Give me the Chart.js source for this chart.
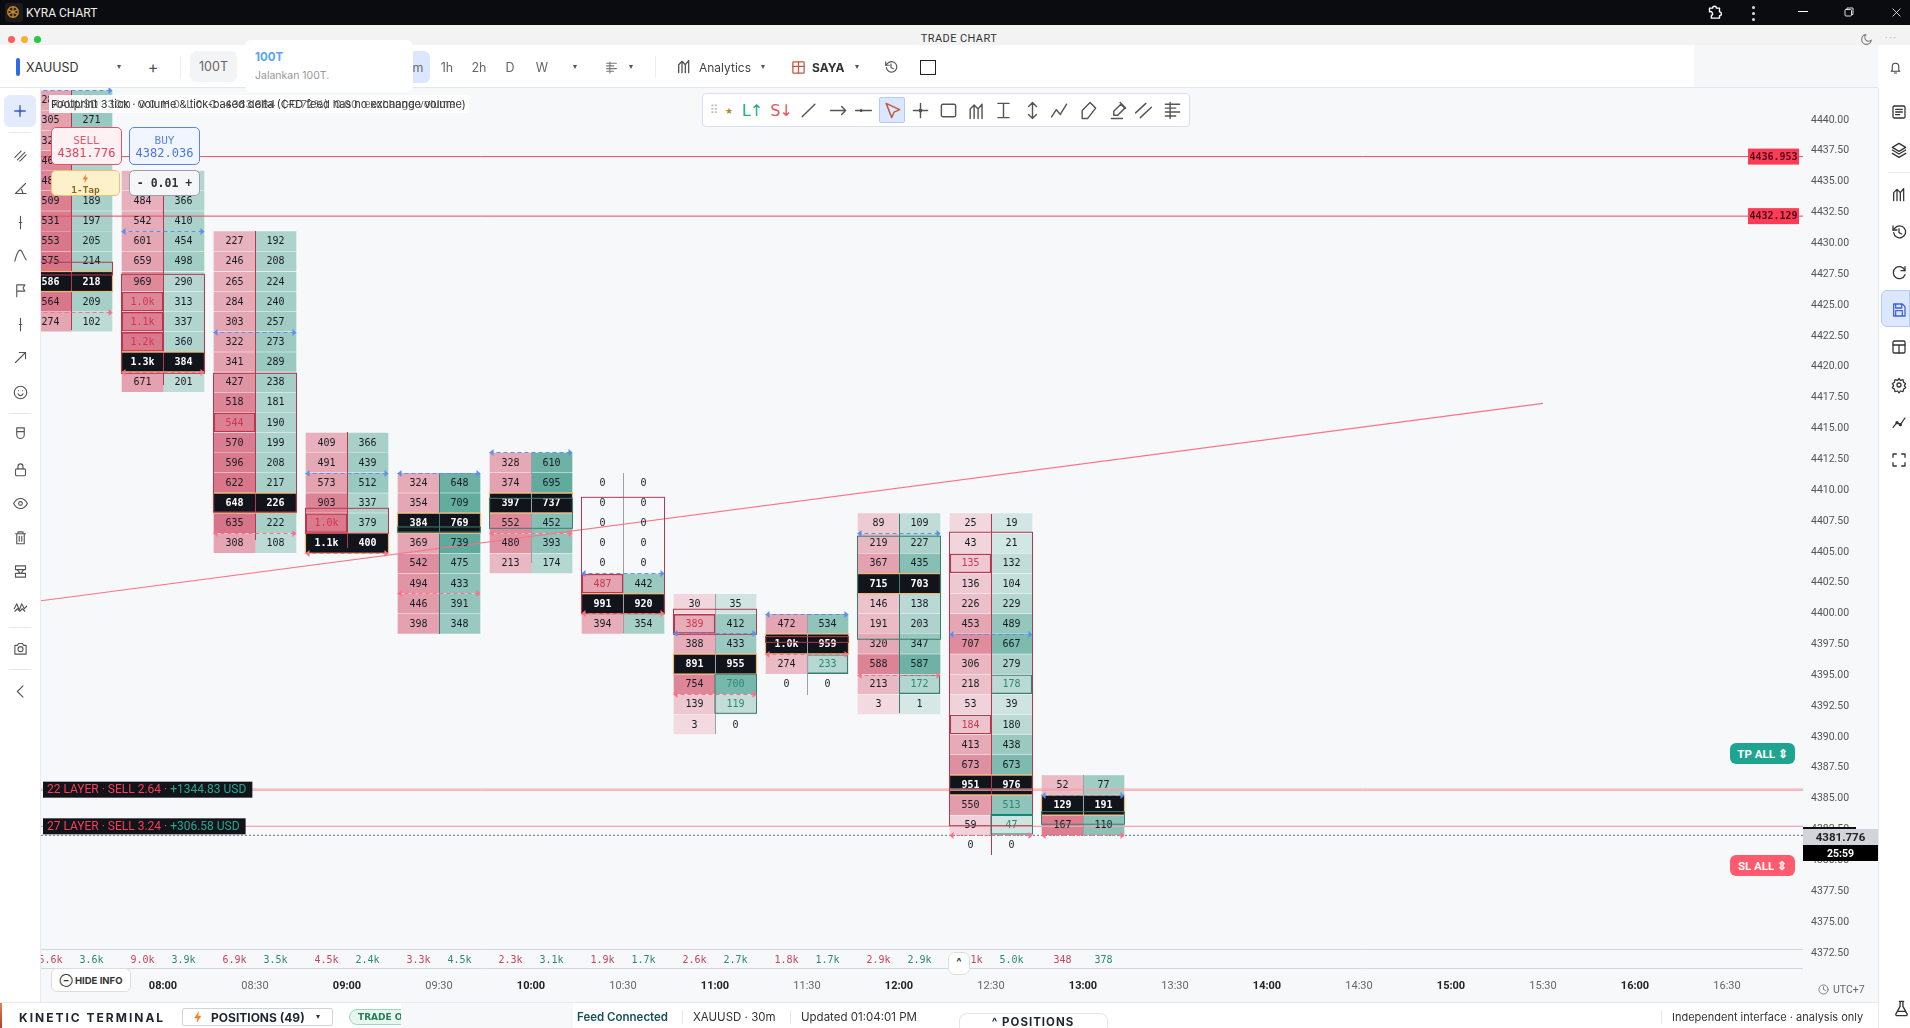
<!DOCTYPE html>
<html><head><meta charset="utf-8"><title>KYRA CHART</title>
<script src="https://cdn.jsdelivr.net/npm/chart.js@4/dist/chart.umd.min.js"></script>
<style>
html,body{margin:0;padding:0;width:1910px;height:1028px;overflow:hidden;background:#f7f8fa;font-family:Inter,Roboto,sans-serif;color:#222}
#cv{position:absolute;left:41px;top:88px}
.a{position:absolute;white-space:nowrap;line-height:1}
svg{position:absolute;overflow:visible}
</style></head><body>
<canvas id="cv" width="1837" height="914"></canvas>
<div id="ui"></div>
<script>
// ---------- DATA ----------
const columnHours = [7.5, 8, 8.5, 9, 9.5, 10, 10.5, 11, 11.5, 12, 12.5, 13];
const rowPrices = [4441.52,4439.89,4438.26,4436.63,4435.00,4433.36,4431.73,4430.10,4428.47,4426.83,4425.20,4423.57,4421.94,4420.31,4418.67,4417.04,4415.41,4413.78,4412.15,4410.51,4408.88,4407.25,4405.62,4403.99,4402.35,4400.72,4399.09,4397.46,4395.83,4394.19,4392.56,4390.93,4389.30,4387.66,4386.03,4384.40,4382.77,4381.14];
const columnFirstRow = [0, 4, 7, 17, 19, 18, 19, 25, 26, 21, 21, 34];
const sellByColumn = [
 [283,305,325,465,485,509,531,553,575,586,564,274],
 [426,484,542,601,659,969,1000,1100,1200,1300,671],
 [227,246,265,284,303,322,341,427,518,544,570,596,622,648,635,308],
 [409,491,573,903,1000,1100],
 [324,354,384,369,542,494,446,398],
 [328,374,397,552,480,213],
 [0,0,0,0,0,487,991,394],
 [30,389,388,891,754,139,3],
 [472,1000,274,0],
 [89,219,367,715,146,191,320,588,213,3],
 [25,43,135,136,226,453,707,306,218,53,184,413,673,951,550,59,0],
 [52,129,167]
];
const buyByColumn = [
 [250,271,296,172,180,189,197,205,214,218,209,102],
 [322,366,410,454,498,290,313,337,360,384,201],
 [192,208,224,240,257,273,289,238,181,190,199,208,217,226,222,108],
 [366,439,512,337,379,400],
 [648,709,769,739,475,433,391,348],
 [610,695,737,452,393,174],
 [0,0,0,0,0,442,920,354],
 [35,412,433,955,700,119,0],
 [534,959,233,0],
 [109,227,435,703,138,203,347,587,172,1],
 [19,21,132,104,229,489,667,279,178,39,180,438,673,976,513,47,0],
 [77,191,110]
];
const pocRows = [9,13,20,22,21,20,25,28,27,24,34,35];
const sellDeltaLabels = ['5.6k','9.0k','6.9k','4.5k','3.3k','2.3k','1.9k','2.6k','1.8k','2.9k','5.1k','348'];
const buyDeltaLabels  = ['3.6k','3.9k','3.5k','2.4k','4.5k','3.1k','1.7k','2.7k','1.7k','2.9k','5.0k','378'];
const sellOutlined = [[1,10],[1,11],[1,12],[2,16],[3,21],[6,24],[7,26],[10,23],[10,31]];
const buyOutlined  = [[8,28],[9,29],[10,29]];
const buyGreenText = [[7,29],[7,30],[10,35],[10,36]];
const vahPrices = [4442.35,4430.92,4422.74,4411.31,4411.31,4412.99,4403.19,4398.32,4399.89,4406.45,4398.29,4385.22];
const valPrices = [4424.34,4419.47,4406.42,4404.80,4401.56,4406.42,4399.94,4393.38,4396.64,4394.97,4381.95,4381.95];
const wickTops    = [4442.35,4435.79,4430.92,4414.64,4411.31,4412.93,4411.31,4401.51,4399.89,4407.99,4407.99,4386.84];
const wickBottoms = [4422.90,4418.44,4405.88,4405.24,4398.27,4404.02,4398.35,4390.16,4393.32,4391.86,4380.36,4381.98];
const wickTones   = ['r','r','r','r','g','k','k','k','k','g','r','k'];
const valueBoxes = [ // column, side (0 both, -1 sell, 1 buy), top price, bottom price, tone
 [0,0,4428.39,4427.36,'r'],[1,0,4427.41,4419.39,'r'],[2,0,4419.39,4408.15,'r'],[3,0,4408.45,4406.42,'r'],
 [4,0,4406.94,4406.53,'g'],[5,0,4409.26,4406.83,'g'],[6,0,4409.34,4399.91,'r'],[7,0,4400.27,4398.24,'r'],
 [8,0,4398.05,4397.59,'r'],[9,0,4406.19,4397.84,'g'],[10,0,4406.51,4382.73,'r'],[10,1,4383.60,4382.06,'g'],
 [7,1,4395.00,4391.84,'g'],[11,0,4383.87,4382.85,'g']
];
const priceAlerts = [4436.953, 4432.129];
const layerPrices = [4385.70, 4385.60, 4382.68];
const lastPrice = 4381.95;
const trendHours = [7.337, 15.5];
const trendPrices = [4400.96, 4416.96];
const priceTicksStep = 2.5;
const layerLabels = [
 {sell:'22 LAYER · SELL 2.64 · ', pnl:'+1344.83 USD', price:4385.65},
 {sell:'27 LAYER · SELL 3.24 · ', pnl:'+306.58 USD', price:4382.68}
];

// ---------- CHART ----------
const halfColumn = 0.1114, halfRow = 0.77;
function mix(a,b,t){return 'rgb('+a.map((c,i)=>Math.round(c+(b[i]-c)*t)).join(',')+')';}
const SELL0=[242,219,225],SELL1=[216,114,134],BUY0=[214,232,229],BUY1=[90,168,153];
function fmt(v){return v>=1000?(v/1000).toFixed(1)+'k':String(v);}
function has(list,c,r){return list.some(m=>m[0]===c&&m[1]===r);}
function cells(values,sign,base0,base1,outlined,greens){
  const out=[];
  values.forEach((vals,c)=>{
    const mx=Math.max(...vals,...sellByColumn[c],...buyByColumn[c]);
    vals.forEach((v,i)=>{
      const r=columnFirstRow[c]+i, p=rowPrices[r], poc=pocRows[c]===r;
      const t=Math.pow(v/mx,0.9);
      out.push({x:columnHours[c]+sign*halfColumn,y:[p-halfRow,p+halfRow],v,
        fill:poc?'#11141a':(v===0?'rgba(0,0,0,0)':mix(base0,base1,t)),poc,
        mark:has(outlined,c,r),green:greens&&has(greens,c,r)});
    });
  });
  return out;
}
const bg=c=>c.raw?c.raw.fill:'transparent';
const barCommon={order:3,grouped:false,barThickness:41,borderSkipped:false,backgroundColor:bg,
  borderWidth:c=>c.raw&&c.raw.mark?1.4:0};
const flat=(y,color,w,dash)=>({type:'line',order:1,data:[{x:7.337,y},{x:16.913,y}],borderColor:color,borderWidth:w,borderDash:dash||[],pointRadius:0,fill:false});
const tones={r:'#b23a50',g:'#3b7f6e',k:'#9aa0a6'};
const deco={id:'deco',afterDatasetsDraw(ch){
  const c=ch.ctx,X=ch.scales.x,Y=ch.scales.y,A=ch.chartArea;
  c.save();c.beginPath();c.rect(A.left,A.top,A.right-A.left,A.bottom-A.top);c.clip();
  const W=41.5;
  columnHours.forEach((h,i)=>{
    const x=Math.round(X.getPixelForValue(h))+.5;
    c.strokeStyle=tones[wickTones[i]];c.lineWidth=1;c.beginPath();
    c.moveTo(x,Y.getPixelForValue(wickTops[i]));c.lineTo(x,Y.getPixelForValue(wickBottoms[i]));c.stroke();
  });
  // text
  ch.data.datasets.slice(0,2).forEach((ds,di)=>{
    const meta=ch.getDatasetMeta(di);
    meta.data.forEach((el,i)=>{
      const d=ds.data[i],cy=(el.y+el.base)/2;
      c.font=(d.poc?'bold ':'')+'10px "DejaVu Sans Mono"';c.textAlign='center';c.textBaseline='middle';
      c.fillStyle=d.poc?'#fff':d.mark?(di===0?'#cf3650':'#2b8a6e'):d.green?'#2b8a6e':'#161c24';
      c.fillText(fmt(d.v),el.x,cy+.5);
    });
  });
  // POC frames
  pocRows.forEach((r,i)=>{
    const x=X.getPixelForValue(columnHours[i]),y0=Y.getPixelForValue(rowPrices[r]+.81),y1=Y.getPixelForValue(rowPrices[r]-.81);
    c.strokeStyle='#f2b673';c.lineWidth=1.2;c.strokeRect(x-W,y0,W*2,y1-y0);
  });
  valueBoxes.forEach(b=>{
    const x=X.getPixelForValue(columnHours[b[0]]);
    const l=b[1]>0?x:x-W,w=b[1]===0?W*2:W;
    const y0=Y.getPixelForValue(b[2]),y1=Y.getPixelForValue(b[3]);
    c.strokeStyle=tones[b[4]];c.lineWidth=1;c.strokeRect(l,y0,w,y1-y0);
  });
  function arrow(h,p,col){
    const x=X.getPixelForValue(h),y=Math.round(Y.getPixelForValue(p))+.5;
    c.strokeStyle=col;c.fillStyle=col;c.lineWidth=1;c.setLineDash([4,3]);
    c.beginPath();c.moveTo(x-W,y);c.lineTo(x+W,y);c.stroke();c.setLineDash([]);
    [[x-W,1],[x+W,-1]].forEach(([ax,s])=>{c.beginPath();c.moveTo(ax,y);c.lineTo(ax+s*4,y-3.5);c.lineTo(ax+s*4,y+3.5);c.fill();});
  }
  columnHours.forEach((h,i)=>{arrow(h,vahPrices[i],'#5b8ff0');arrow(h,valPrices[i],'#ff7088');});
  // thick green band under 513
  c.fillStyle='#0f8a72';const gx=X.getPixelForValue(12.5);c.fillRect(gx,Y.getPixelForValue(4383.60)-1,41,2);
  // alert tags
  priceAlerts.forEach(p=>{
    const y=Y.getPixelForValue(p);
    c.fillStyle='#ff3b55';c.fillRect(1748-41,y-8,51,16);
    c.fillStyle='#4b0d1c';c.font='bold 10px "DejaVu Sans Mono"';c.textAlign='center';c.textBaseline='middle';
    c.fillText(p.toFixed(3),1773.5-41,y+.5);
  });
  // layer labels
  layerLabels.forEach(L=>{
    const y=Y.getPixelForValue(L.price);
    c.font='12px Roboto';c.textAlign='left';c.textBaseline='middle';
    const w1=c.measureText(L.sell).width,w2=c.measureText(L.pnl).width;
    c.fillStyle='#11141a';c.fillRect(2,y-8,w1+w2+10,16);
    c.fillStyle='#ff3b55';c.fillText(L.sell,6,y+.5);
    c.fillStyle='#2aa68f';c.fillText(L.pnl,6+w1,y+.5);
  });
  c.restore();
  // delta strip
  const y1=949-88,y2=968-88;
  c.strokeStyle='#d3d6da';c.lineWidth=1;
  [y1,y2].forEach(y=>{c.beginPath();c.moveTo(A.left,y+.5);c.lineTo(A.right,y+.5);c.stroke();});
  c.save();c.beginPath();c.rect(A.left,y1,A.right-A.left,y2-y1);c.clip();
  c.font='10px "DejaVu Sans Mono"';c.textAlign='center';c.textBaseline='middle';
  columnHours.forEach((h,i)=>{
    const x=X.getPixelForValue(h);
    c.fillStyle='#c9445c';c.fillText(sellDeltaLabels[i],x-20.5,960-88);
    c.fillStyle='#2d8a6e';c.fillText(buyDeltaLabels[i],x+20.5,960-88);
  });
  c.restore();
}};
new Chart(document.getElementById('cv'),{
  type:'bar',
  data:{datasets:[
    Object.assign({label:'Sell',data:cells(sellByColumn,-1,SELL0,SELL1,sellOutlined),borderColor:'#c2344c'},barCommon),
    Object.assign({label:'Buy',data:cells(buyByColumn,1,BUY0,BUY1,buyOutlined,buyGreenText),borderColor:'#3b7f6e'},barCommon),
    flat(priceAlerts[0],'#ea4a60',1),flat(priceAlerts[1],'#ea4a60',1),
    flat(layerPrices[0],'#f2a3ab',1),flat(layerPrices[1],'#f2a3ab',1),flat(layerPrices[2],'#f2a3ab',1.2),
    flat(lastPrice,'#6b7075',1,[2,2]),
    {type:'line',order:1,data:trendHours.map((x,i)=>({x,y:trendPrices[i]})),borderColor:'#fb7285',borderWidth:1.2,pointRadius:0,fill:false}
  ]},
  options:{responsive:false,animation:false,maintainAspectRatio:false,
    layout:{padding:0},
    plugins:{legend:{display:false},tooltip:{enabled:false},title:{display:false}},
    scales:{
      x:{type:'linear',position:'bottom',offset:false,min:7.337,max:16.913,
        grid:{display:false,offset:false,drawTicks:false},border:{display:false},
        afterFit(s){s.height=34;s.paddingLeft=0;s.paddingRight=0;},
        ticks:{stepSize:.5,includeBounds:false,autoSkip:false,maxRotation:0,padding:12,color:c=>Number.isInteger(c.tick.value)?'#222':'#666',
          font:c=>({family:'Roboto',size:11,weight:Number.isInteger(c.tick&&c.tick.value)?'bold':'normal'}),
          callback:v=>String(Math.floor(v)).padStart(2,'0')+(v%1?':30':':00')}},
      y:{type:'linear',position:'right',min:4371.199,max:4442.512,
        grid:{display:false,drawTicks:false},border:{display:false},
        afterFit(s){s.width=75;s.paddingTop=0;s.paddingBottom=0;},
        afterBuildTicks(s){s.ticks=s.ticks.filter(t=>t.value<=4440);},
        ticks:{stepSize:priceTicksStep,includeBounds:false,autoSkip:false,padding:8,labelOffset:1,color:'#555',font:{family:'Roboto',size:10.5},
          callback:v=>v.toFixed(2)}}
    }
  },
  plugins:[deco]
});

// ---------- INTERFACE CHROME ----------
const ui=document.getElementById('ui');
function box(x,y,w,h,st){ui.insertAdjacentHTML('beforeend',`<div class="a" style="left:${x}px;top:${y}px;width:${w}px;height:${h}px;${st||''}"></div>`);}
function txt(x,y,s,st){ui.insertAdjacentHTML('beforeend',`<div class="a" style="left:${x}px;top:${y}px;transform:translateY(-50%);${st||''}">${s}</div>`);}
function ctr(x,y,s,st){ui.insertAdjacentHTML('beforeend',`<div class="a" style="left:${x}px;top:${y}px;transform:translate(-50%,-50%);${st||''}">${s}</div>`);}
function ic(x,y,inner,size,col,sw){size=size||16;col=col||'#444';ui.insertAdjacentHTML('beforeend',`<svg style="left:${x-size/2}px;top:${y-size/2}px;color:${col}" width="${size}" height="${size}" viewBox="0 0 24 24" fill="none" stroke="${col}" stroke-width="${sw||2}" stroke-linecap="round" stroke-linejoin="round">${inner}</svg>`);}
const MONO='DejaVu Sans Mono', DJ='DejaVu Sans';
const I={
 cross:'<path d="M12 3v18M3 12h18"/><circle cx="12" cy="12" r="1.5"/>',
 hatch:'<path d="M3 15L13 5M7 19L19 7M11 21L21 11"/>',
 angle:'<path d="M20 4L4 20h17M13 11l3 9"/>',
 vert:'<path d="M12 2v20M10 12h4"/>',
 curve:'<path d="M3 21C7 4 11 2 13 4s5 11 8 15"/>',
 flag:'<path d="M6 22V3h13l-3 5 3 5H6"/>',
 arrow:'<path d="M4 20L20 4M10 4h10v10"/>',
 smile:'<circle cx="12" cy="12" r="10"/><path d="M8 14s1.5 3 4 3 4-3 4-3M9 9h.01M15 9h.01"/>',
 magnet:'<path d="M6 3h12v11a6 6 0 0 1-12 0zM6 9h12"/>',
 lock:'<rect x="4" y="11" width="16" height="11" rx="2"/><path d="M8 11V7a4 4 0 0 1 8 0v4"/>',
 eye:'<path d="M1 12s4-8 11-8 11 8 11 8-4 8-11 8S1 12 1 12z"/><circle cx="12" cy="12" r="3"/>',
 trash:'<path d="M4 6h16M8 6V3h8v3M6 6v16h12V6M10 10v8M14 10v8"/>',
 stack:'<rect x="4" y="3" width="16" height="6"/><rect x="4" y="15" width="16" height="6"/><path d="M7 9l4 6M17 9l-4 6"/>',
 wave:'<path d="M2 14l4-8 4 10 4-10 4 8 4-4M3 18l4-4 4 4 4-4 4 4"/>',
 cam:'<path d="M3 7h4l2-3h6l2 3h4v14H3z"/><circle cx="12" cy="13" r="4"/>',
 back:'<path d="M16 3L7 12l9 9"/>',
 doc:'<rect x="3" y="3" width="18" height="18" rx="2"/><path d="M7 8h10M7 12h10M7 16h6"/>',
 layers:'<path d="M12 2L2 8l10 6 10-6zM2 12l10 6 10-6M2 17l10 6 10-6"/>',
 bars:'<path d="M4 22V10M9 22V5l5 5M14 22V10l5-6M19 22V4M4 10l5-5"/>',
 hist:'<path d="M3 3v6h6"/><path d="M4 13a9 9 0 1 0 2-7L3 9M12 7v6l4 2"/>',
 redo:'<path d="M21 4v6h-6"/><path d="M21 10a9 9 0 1 0 0 6"/>',
 save:'<path d="M4 3h13l4 4v14H4zM7 3v6h9V3M7 21v-8h10v8"/>',
 layout:'<rect x="3" y="3" width="18" height="18" rx="2"/><path d="M3 9h18M12 9v12"/>',
 gear:'<circle cx="12" cy="12" r="3"/><path d="M12 2l2 3 4-1 1 4 3 2-2 3 2 3-3 2-1 4-4-1-2 3-2-3-4 1-1-4-3-2 2-3-2-3 3-2 1-4 4 1z"/>',
 spark:'<path d="M3 20l6-7 5 3 7-10"/><circle cx="9" cy="13" r="1.5"/><circle cx="14" cy="16" r="1.5"/>',
 full:'<path d="M3 8V3h5M16 3h5v5M21 16v5h-5M8 21H3v-5"/>',
 bell:'<path d="M6 17V10a6 6 0 0 1 12 0v7l2 2H4zM10 22h4"/>',
 moon:'<path d="M21 13A9 9 0 1 1 11 3a7 7 0 0 0 10 10z"/>',
 flask:'<path d="M9 2h6M10 2v7L4 20a1.5 1.5 0 0 0 1 2h14a1.5 1.5 0 0 0 1-2L14 9V2M6 16h12"/>',
 table:'<rect x="3" y="3" width="18" height="18" rx="1"/><path d="M3 10h18M12 3v18"/>',
 line:'<path d="M4 20L20 4"/>',
 rarrow:'<path d="M2 12h19M16 7l5 5-5 5"/>',
 hline:'<path d="M2 12h20"/><circle cx="9" cy="12" r="1"/>',
 cursor:'<path d="M4 3l17 8-7 3-3 7z"/>',
 rect:'<rect x="3" y="4" width="18" height="16" rx="2"/>',
 ibeam:'<path d="M5 3h14M5 21h14M12 3v18"/>',
 updown:'<path d="M12 2v20M7 7l5-5 5 5M7 17l5 5 5-5"/>',
 zig:'<path d="M2 20l6-9 5 6 8-13"/>',
 pencil:'<path d="M4 22V12L14 2l7 7L11 22z"/>',
 pen:'<path d="M3 22h14M6 18v-5L15 4l5 5-9 9zM14 2l7 7"/>',
 dbl:'<path d="M2 15L15 3M8 21L22 8"/>',
 list:'<path d="M3 4h18M3 9h13M3 14h18M3 19h13M9 2v20"/>',
 bolt:'<path d="M13 2L5 14h6l-1 8 8-12h-6z" fill="currentColor"/>',
 puzzle:'<path d="M4 5h5a3 3 0 0 1 6 0h5v6a3 3 0 0 1 0 6v4H7v-4a3 3 0 0 0-3-6z"/>',
 clock:'<circle cx="12" cy="12" r="10"/><path d="M12 6v6l4 2"/>'
};
// title + window bars
box(0,0,1910,25,'background:#0b0c10');
box(5,3,18,19,'background:#1b1b1b;border-radius:3px');
ic(13,12,'<circle cx="12" cy="12" r="9"/><path d="M12 3v18M4 8l16 8M20 8L4 16"/>',14,'#c9862b',2.4);
txt(26,12.5,'KYRA CHART','color:#eee;font:12px Roboto;');
ic(1714,12,I.puzzle,15,'#fff',2.2);
[6,12,18].forEach(y=>box(1752,y,3,3,'background:#ddd;border-radius:2px'));
box(1798,11,10,1.4,'background:#fff');
ic(1849,12,'<rect x="4" y="7" width="13" height="13" rx="2"/><path d="M8 7V4h12v13h-3"/>',12,'#ddd');
ic(1896,12,'<path d="M4 4l16 16M20 4L4 20"/>',11,'#ddd');
box(0,25,1910,20,'background:#f3f3f4');
[[11.5,'#ff5f57'],[24.5,'#f5b22e'],[37.5,'#28c840']].forEach(d=>box(d[0]-3.5,35.5,7,7,`background:${d[1]};border-radius:50%`));
ctr(959,38,'TRADE CHART','font:11px Roboto;letter-spacing:.4px;color:#333');
ic(1866,39,I.moon,13,'#777');
ctr(1891,38,'···','font:12px Roboto;color:#bbb;letter-spacing:1px');
// toolbar
box(0,45,1878,43,'background:#fff;border-bottom:1px solid #e4e6ea;box-sizing:border-box');
box(1694,45,184,42,'background:#f6f7f8');
box(1878,45,32,43,'background:#fff');
box(16,58,4,18,'background:#2f6be6;border-radius:2px');
txt(26,67,'XAUUSD','font:12.5px Inter;color:#333');
ctr(119,66,'▾',`font:8px ${DJ};color:#555`);
ctr(153,67,'+','font:16px Inter;color:#555');
box(180,56,1,22,'background:#eee');
box(190,51,47,31,'background:#f3f4f6;border-radius:6px');
ctr(213.5,66,'100T','font:12.5px Inter;color:#666');
box(395,51,35,32,'background:#dbe6ff;border-radius:6px');
box(245,40,168,52,'background:#fff;border-radius:6px');
txt(255,57,'100T','font:bold 11.5px Inter;color:#5aa3f0');
txt(255,75,'Jalankan 100T.','font:10.5px Inter;color:#999');
ctr(418,67,'m','font:12.5px Inter;color:#666');
[['1h',447],['2h',479],['D',510],['W',542]].forEach(t=>ctr(t[1],67,t[0],'font:12.5px Inter;color:#666'));
ctr(575,66,'▾',`font:8px ${DJ};color:#555`);
ic(611,67,I.list,13,'#777');
ctr(631,66,'▾',`font:8px ${DJ};color:#555`);
box(655,56,1,22,'background:#eee');
ic(684,66,I.bars,16,'#555');
txt(699,67,'Analytics','font:12px Inter;color:#444');
ctr(763,66,'▾',`font:8px ${DJ};color:#555`);
ic(798,67,I.table,15,'#c0583c');
txt(812,67,'SAYA','font:bold 12px Inter;color:#333');
ctr(857,66,'▾',`font:8px ${DJ};color:#555`);
ic(891,67,I.hist,14,'#555');
box(920,60,14,13,'border:1.4px solid #222');
ic(1895,67,I.bell,13,'#444');
// drawing toolbar
box(702,93,488,34,'background:#fff;border:1px solid #d9deea;border-radius:4px;box-sizing:border-box');
ctr(714,110,'⠿',`font:12px ${DJ};color:#bbb`);
ctr(729,111,'★',`font:9px ${DJ};color:#b8862b`);
ctr(752,110,'L↑',`font:16px ${DJ};color:#22ae86;letter-spacing:-1px`);
ctr(781,110,'S↓',`font:16px ${DJ};color:#e2555f;letter-spacing:-1px`);
box(879,97,26,26,'background:#dbe6ff;border:1px solid #b6c9f5;box-sizing:border-box;border-radius:2px');
[['line',808],['rarrow',838],['hline',863],['cursor',892,'#c0583c'],['cross',920],['rect',948],['bars',976],['ibeam',1003],['updown',1032],['zig',1059],['pencil',1088],['pen',1118],['dbl',1143],['list',1172]].forEach(t=>ic(t[1],110,I[t[0]],19,t[2]||'#555',1.8));
// left rail
box(0,88,41,914,'background:#fff;border-right:1px solid #e8eaed;box-sizing:border-box');
box(4,95,32,32,'background:#e4ebff;border-radius:6px');
ic(20,111,I.cross,14,'#3a62c9',2.4);
[132,413,627,669].forEach(y=>box(9,y,22,1,'background:#e5e7eb'));
[['hatch',155],['angle',188],['vert',222],['curve',255],['flag',290],['vert',324],['arrow',357],['smile',392],['magnet',433],['lock',469],['eye',503],['trash',537],['stack',571],['wave',607],['cam',648],['back',691]].forEach(t=>ic(20,t[1],I[t[0]],15,'#555',1.8));
// right rail
box(1878,88,32,940,'background:#fff;border-left:1px solid #e8eaed;box-sizing:border-box');
box(1881,290,29,37,'background:#dde7ff;border:1px solid #b6c9f5;box-sizing:border-box;border-radius:6px 0 0 6px');
box(1888,172,22,1,'background:#e5e7eb');
[['doc',112],['layers',150],['bars',194],['hist',232],['redo',272],['save',310,'#3c63d8'],['layout',347],['gear',385],['spark',422],['full',460]].forEach(t=>ic(1899,t[1],I[t[0]],16,t[2]||'#333',1.9));
// order panel
box(51,127,71,38,'background:#fdf1f3;border:1px solid #e0546a;border-radius:5px;box-sizing:border-box');
ctr(86.5,140,'SELL',`font:11px ${MONO};color:#e05a70`);
ctr(86.5,153,'4381.776',`font:12px ${MONO};color:#d9465e`);
box(129,127,71,38,'background:#f1f5ff;border:1px solid #5b83ea;border-radius:5px;box-sizing:border-box');
ctr(164.5,140,'BUY',`font:11px ${MONO};color:#5b83ea`);
ctr(164.5,153,'4382.036',`font:12px ${MONO};color:#4a75e6`);
box(51,170,69,26,'background:#fdf1cb;border:1px solid #f0c070;border-radius:5px;box-sizing:border-box');
ic(85,178,I.bolt,9,'#f08030',1);
ctr(85.5,189,'1-Tap',`font:bold 9.5px ${MONO};color:#8a6a20`);
box(129,170,71,26,'background:#f5f6f8;border:1px solid #9aa0a6;border-radius:5px;box-sizing:border-box');
ctr(164.5,183,'- 0.01 +',`font:bold 11.5px ${MONO};color:#333`);
// info banner
box(49,95,420,18,'background:rgba(255,255,255,.92)');
txt(51,104,'Footprint 3 tick · volume &amp; tick-based delta (CFD feed has no exchange volume)','font:11px Inter;color:#333');
txt(52,104,'XAUUSD · 30m &nbsp;O 0 &nbsp;H 0 &nbsp;L 0 &nbsp;C -4383.884 &nbsp;(-0.72%) &nbsp;0.00 &nbsp;exchange volume','font:11px Inter;color:#444;opacity:.75');
// quick actions
box(1730,743,65,21,'background:#1fa58f;border-radius:6px');
ctr(1762.5,753.5,'TP ALL ⇕','font:bold 11.5px Roboto;color:#fff');
box(1730,855,65,21,'background:#ff5a6e;border-radius:6px');
ctr(1762.5,865.5,'SL ALL ⇕','font:bold 11.5px Roboto;color:#fff');
// last price tags
box(1803,827,53,2,'background:#111');
box(1803,829,75,16,'background:#d1d5db');
ctr(1840.5,837,'4381.776','font:bold 11.5px Roboto;color:#222');
box(1803,845,75,16,'background:#000');
ctr(1840.5,853,'25:59','font:bold 10.5px Roboto;color:#fff');
// time strip widgets
box(51,968,80,24,'background:#fff;border:1px solid #ddd;border-radius:6px;box-sizing:border-box');
ctr(91,980,'⊖ HIDE INFO','font:bold 9.5px Inter;color:#333');
box(948,952,22,23,'background:#fff;border:1px solid #ddd;border-radius:7px;box-sizing:border-box');
ctr(959,962,'^','font:bold 11px Inter;color:#333');
ic(1823,989,I.clock,11,'#777');
txt(1833,989,'UTC+7','font:10.5px Roboto;color:#666');
// status bar
box(0,1002,1878,26,'background:#fff;border-top:1px solid #e8eaed;box-sizing:border-box');
box(0,1003,2,25,'background:linear-gradient(#e08050,#b04030)');
txt(19,1017,'KINETIC TERMINAL','font:bold 12px Inter;letter-spacing:2px;color:#1c2530');
box(182,1008,151,18,'border:1px solid #cfd3da;box-sizing:border-box;border-radius:2px');
ic(198,1017,I.bolt,12,'#f08030',1);
txt(211,1017,'POSITIONS (49)','font:bold 12px Inter;color:#1c2530');
ctr(318,1016,'▾',`font:8px ${DJ};color:#333`);
box(349,1009,60,16,'background:#e6f7ee;border:1px solid #9ad8b8;border-radius:9px;box-sizing:border-box');
txt(358,1017,'TRADE OFF',`font:bold 9px ${DJ};color:#2a7d5a`);
box(401,1003,172,25,'background:#f7f8fa');
txt(577,1017,'Feed Connected','font:600 11.5px Inter;color:#14505a');
box(682,1010,1,14,'background:#e5e7eb');
txt(693,1017,'XAUUSD · 30m','font:11.5px Inter;color:#333');
box(790,1010,1,14,'background:#e5e7eb');
txt(801,1017,'Updated 01:04:01 PM','font:11.5px Inter;color:#333');
box(959,1013,149,15,'background:#fff;border:1px solid #e5e7eb;border-bottom:0;border-radius:8px 8px 0 0;box-sizing:border-box');
ctr(1033,1022,'^ POSITIONS','font:bold 11.5px Inter;letter-spacing:1px;color:#1c2530');
box(1661,1010,1,14,'background:#e5e7eb');
txt(1672,1017,'Independent interface · analysis only','font:11px Inter;color:#333');
ic(1901,1008,I.flask,17,'#333',1.9);
</script>
</body></html>
